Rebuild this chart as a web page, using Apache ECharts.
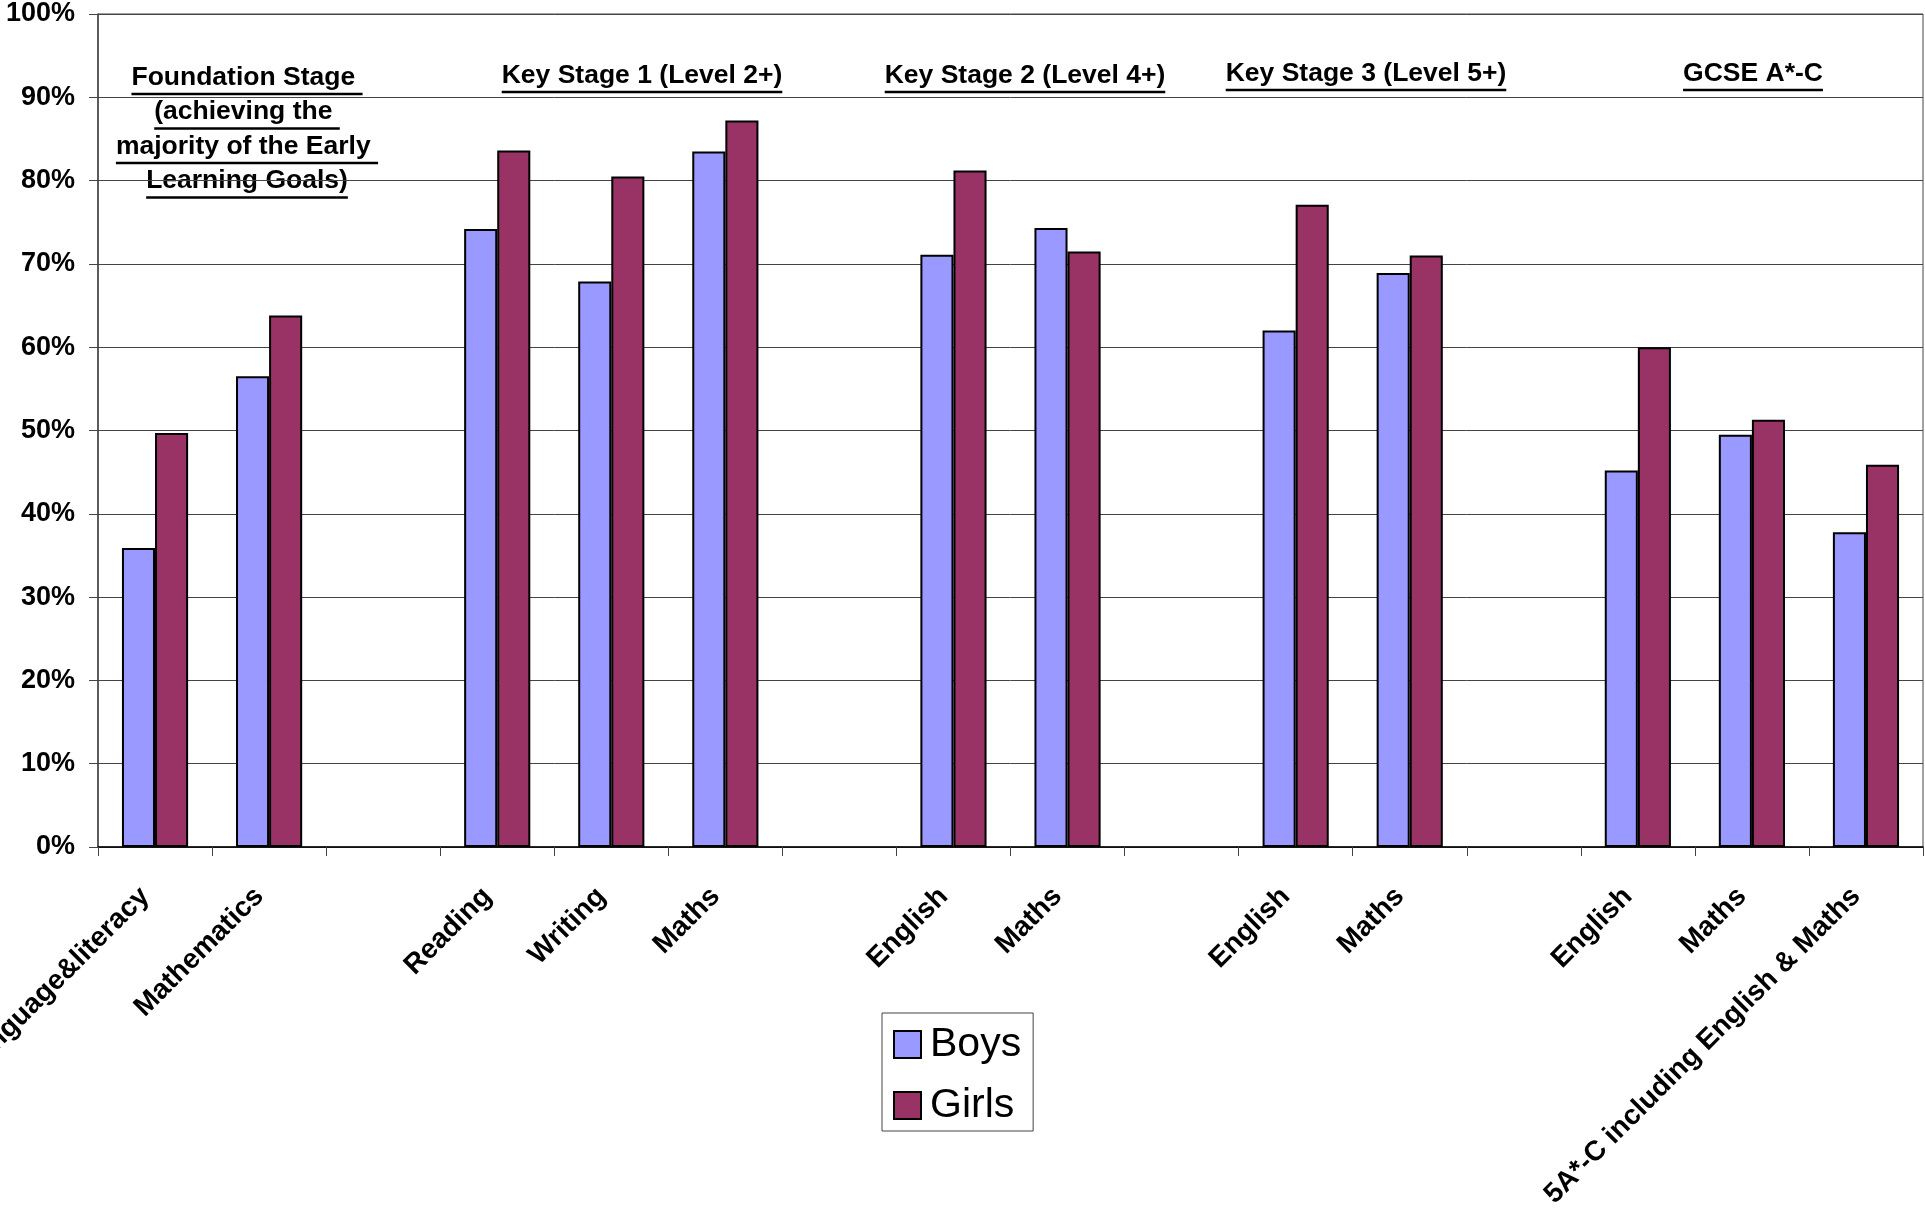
<!DOCTYPE html>
<html><head><meta charset="utf-8">
<script src="https://cdn.jsdelivr.net/npm/echarts@6/dist/echarts.min.js"></script>
<style>html,body{margin:0;padding:0;background:#fff}#c{width:1925px;height:1229px}</style>
</head><body><div id="c"></div>
<script>
// ---- data ----
const categories = ['Communication, language&literacy', 'Mathematics', '', 'Reading', 'Writing', 'Maths', '', 'English', 'Maths', '', 'English', 'Maths', '', 'English', 'Maths', '5A*-C including English & Maths'];
const seriesNames = ['Boys', 'Girls'];
const boys  = [35.9, 56.5, null, 74.2, 67.9, 83.5, null, 71.1, 74.3, null, 62.0, 68.9, null, 45.2, 49.5, 37.8];
const girls = [49.7, 63.8, null, 83.6, 80.5, 87.2, null, 81.2, 71.5, null, 77.1, 71.0, null, 60.0, 51.3, 45.9];
const yMin = 0, yMax = 100, yStep = 10;
const stageHeaders = [
  ['Foundation Stage ', '(achieving the ', 'majority of the Early ', 'Learning Goals)'],
  ['Key Stage 1 (Level 2+)'],
  ['Key Stage 2 (Level 4+)'],
  ['Key Stage 3 (Level 5+)'],
  ['GCSE A*-C']
];
// ---- layout (pixels) ----
const headerPos = [[247, 91], [642, 89], [1025, 89], [1366, 87], [1753, 87]]; // center x, first baseline
const headerLineStep = 34.5;
const FONT = "'Liberation Sans', Arial, Helvetica, sans-serif";
const headerFontSize = 26.5;

const chart = echarts.init(document.getElementById('c'), null, {renderer: 'canvas'});

const measurer = document.createElement('canvas').getContext('2d');
measurer.font = 'bold ' + headerFontSize + 'px ' + FONT;
const graphics = [];
stageHeaders.forEach((lines, i) => {
  const [cx, by] = headerPos[i];
  lines.forEach((t, j) => {
    const y = by + j * headerLineStep;
    const w = measurer.measureText(t).width;
    graphics.push({
      type: 'text', x: cx, y: y,
      style: {text: t, x: 0, y: 0, fill: '#000', font: 'bold ' + headerFontSize + 'px ' + FONT, textAlign: 'center', textVerticalAlign: 'bottom', align: 'center', verticalAlign: 'bottom'}
    });
    graphics.push({
      type: 'line', shape: {x1: cx - w / 2, y1: y + 3, x2: cx + w / 2, y2: y + 3},
      style: {stroke: '#000', lineWidth: 2.5}
    });
  });
});

const option = {
  animation: false,
  backgroundColor: '#fff',
  textStyle: {fontFamily: FONT},
  grid: {left: 98, right: 2, top: 14, bottom: 382, containLabel: false, outerBoundsMode: 'none',
         show: true, borderColor: '#444', borderWidth: 1},
  legend: {
    data: seriesNames, orient: 'vertical', left: 882, top: 1013,
    itemWidth: 27, itemHeight: 27, itemGap: 20, icon: 'rect',
    padding: [11, 12, 5, 11], borderColor: '#444', borderWidth: 1, backgroundColor: '#fff',
    textStyle: {fontSize: 41, lineHeight: 40, color: '#000', fontFamily: FONT, padding: [0, 0, 0, 4]}
  },
  xAxis: {
    type: 'category', data: categories,
    axisLine: {lineStyle: {color: '#000', width: 1.5}},
    axisTick: {show: true, length: 9, lineStyle: {color: '#444'}},
    axisLabel: {interval: 0, rotate: 45, margin: 55, verticalAlign: 'bottom', fontSize: 28, fontWeight: 'bold', color: '#000', fontFamily: FONT}
  },
  yAxis: {
    type: 'value', min: yMin, max: yMax, interval: yStep,
    axisLine: {show: true, lineStyle: {color: '#444', width: 1.5}},
    axisTick: {show: true, length: 9, lineStyle: {color: '#444'}},
    axisLabel: {formatter: '{value}%', margin: 23, fontSize: 27, fontWeight: 'bold', color: '#000', fontFamily: FONT},
    splitLine: {show: true, lineStyle: {color: '#444', width: 1}}
  },
  series: [
    {name: seriesNames[0], type: 'bar', data: boys, barGap: '0%', barCategoryGap: '42%',
     itemStyle: {color: '#9999FF', borderColor: '#000', borderWidth: 2}},
    {name: seriesNames[1], type: 'bar', data: girls, barGap: '0%', barCategoryGap: '42%',
     itemStyle: {color: '#993366', borderColor: '#000', borderWidth: 2}}
  ],
  graphic: graphics
};
chart.setOption(option);
</script>
</body></html>
